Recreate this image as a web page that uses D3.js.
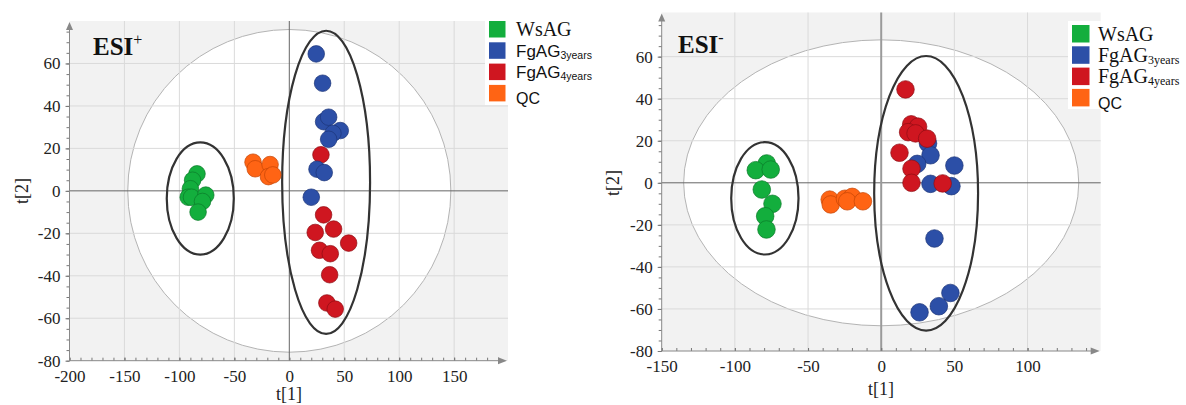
<!doctype html>
<html>
<head>
<meta charset="utf-8">
<script src="https://d3js.org/d3.v7.min.js"></script>
<style>
  body {margin: 0; background: #fff;}
  svg {display: block;}
</style>
</head>
<body>
<svg width="1186" height="405"></svg>
<script>
// groups and colours
var groups = ["WsAG", "FgAG3", "FgAG4", "QC"];
var colors = ["#13ae3d", "#2c4fa7", "#cf1620", "#ff6414"];
var strokes = ["#0c7a2a", "#1d3578", "#8e0d13", "#c44506"];

// ESI+ scores [t1, t2]
var posWsAG = [[-84, 8], [-88, 5], [-90, 1], [-92, -3], [-89, -3], [-76, -2], [-79, -5], [-83, -10]];
var posQC = [[-33, 13.5], [-31, 10.4], [-17.5, 12.4], [-19, 6.7], [-15, 7.5]];
var posFg4 = [[28.8, 17], [31.2, -11.3], [23.6, -19.6], [40.3, -18], [54, -24.6], [27.5, -28], [37.3, -29.6], [36.7, -39.5], [34.2, -52.8], [41.8, -55.7]];
var posFg3 = [[24.5, 64.5], [30.3, 50.7], [31.2, 32.6], [35.8, 34.7], [46.4, 28.4], [39.7, 27.1], [35.8, 24.3], [25.2, 10.2], [31.8, 8.6], [20, -3]];

// ESI- scores [t1, t2]
var negWsAG = [[-78.2, 9.2], [-85.7, 6], [-75.5, 6.3], [-81.6, -3.2], [-74.3, -10], [-79.3, -15.9], [-78.4, -22.2]];
var negQC = [[-35.2, -8], [-34.5, -10.3], [-24.8, -7.6], [-19.8, -6.7], [-23.2, -8.8], [-12.5, -8.8]];
var negFg3 = [[32, 18.7], [33.7, 13.1], [24.6, 9], [50, 8.2], [33.7, -0.5], [48, -1.6], [36.4, -26.5], [47.3, -52.4], [39.4, -58.7], [26.2, -61.6]];
var negFg4 = [[16.6, 44.4], [20.5, 27.8], [25.2, 26.7], [18.4, 24.1], [23.5, 23.5], [31.4, 21], [12.5, 14.3], [20.7, 6.7], [20.7, 0], [42, -0.3]];

// ellipses [cx, cy, rx, ry] in score units
var posHotelling = [0, 0, 147, 76];
var posGroupEll = [[-81, -3.6, 30.5, 26.4], [33.5, 4, 40, 71.4]];
var negHotelling = [0, 0, 135, 68];
var negGroupEll = [[-79.5, -7.4, 23, 26.7], [30.7, -5, 35.5, 65.3]];

// ticks
var posXTicks = [-200, -150, -100, -50, 0, 50, 100, 150];
var negXTicks = [-150, -100, -50, 0, 50, 100];
var yTicks = [-80, -60, -40, -20, 0, 20, 40, 60];

var svg = d3.select("svg");
var fmt = function(d) {return String(d);};

function panel(p) {
    var x = p.x, y = p.y;
    var g = svg.append("g");
    var x0 = x.range()[0], x1 = x.range()[1];
    var yb = y.range()[0], yt = y.range()[1];

    // background + Hotelling ellipse
    g.append("rect").attr("x", x0).attr("y", yt).attr("width", x1 - x0).attr("height", yb - yt).attr("fill", "#f2f2f2");
    g.append("ellipse")
        .attr("cx", x(p.hot[0])).attr("cy", y(p.hot[1]))
        .attr("rx", x(p.hot[2]) - x(0)).attr("ry", y(0) - y(p.hot[3]))
        .attr("fill", "#fff").attr("stroke", "#b4b4b4").attr("stroke-width", 1);

    // grid
    g.selectAll(".vg").data(p.xticks.filter(function(d) {return d != 0 && d != x.domain()[0];}))
        .enter().append("line")
        .attr("x1", function(d) {return x(d);}).attr("x2", function(d) {return x(d);})
        .attr("y1", yt).attr("y2", yb).attr("stroke", "#dadada");
    g.selectAll(".hg").data(yTicks.filter(function(d) {return d != 0 && d != -80;}))
        .enter().append("line")
        .attr("y1", function(d) {return y(d);}).attr("y2", function(d) {return y(d);})
        .attr("x1", x0).attr("x2", x1).attr("stroke", "#dadada");

    // legend backdrop
    g.append("rect").attr("x", p.leg[0] - 4).attr("y", p.leg[1] - 4).attr("width", x1 - p.leg[0] + 4).attr("height", 88).attr("fill", "#fff");

    // zero lines
    g.append("line").attr("x1", x0).attr("x2", x1).attr("y1", y(0)).attr("y2", y(0)).attr("stroke", "#666");
    g.append("line").attr("x1", x(0)).attr("x2", x(0)).attr("y1", yt).attr("y2", yb)
        .attr("stroke", p.zeroV[0]).attr("stroke-width", p.zeroV[1]);

    // group ellipses
    g.selectAll(".ge").data(p.groupEll).enter().append("ellipse")
        .attr("cx", function(d) {return x(d[0]);}).attr("cy", function(d) {return y(d[1]);})
        .attr("rx", function(d) {return x(d[2]) - x(0);}).attr("ry", function(d) {return y(0) - y(d[3]);})
        .attr("fill", "none").attr("stroke", "#333").attr("stroke-width", 2.2);

    // points
    p.series.forEach(function(s) {
        g.append("g").selectAll("circle").data(s.data).enter().append("circle")
            .attr("cx", function(d) {return x(d[0]);})
            .attr("cy", function(d) {return y(d[1]);})
            .attr("r", p.r)
            .attr("fill", colors[s.k]).attr("stroke", strokes[s.k]).attr("stroke-width", 0.7);
    });

    // axes
    var ay = g.append("g").attr("transform", "translate(" + x0 + ",0)")
        .call(d3.axisLeft(y).tickValues(yTicks).tickSize(4).tickPadding(5).tickFormat(fmt));
    var ayMinor = g.append("g").attr("transform", "translate(" + x0 + ",0)")
        .call(d3.axisLeft(y).tickValues(d3.range(-80, 80, 5)).tickSize(3).tickFormat(""));
    var ax = g.append("g").attr("transform", "translate(0," + yb + ")")
        .call(d3.axisBottom(x).tickValues(p.xticks).tickSizeInner(-3).tickSizeOuter(0).tickPadding(9).tickFormat(fmt));
    var axMinor = g.append("g").attr("transform", "translate(0," + yb + ")")
        .call(d3.axisBottom(x).tickValues(d3.range(x.domain()[0], x.domain()[1] - 5, 10)).tickSizeInner(-3).tickSizeOuter(0).tickFormat(""));
    [ay, ayMinor, ax, axMinor].forEach(function(a) {
        a.select(".domain").remove();
        a.selectAll(".tick line").attr("stroke", "#777");
        a.selectAll(".tick text").attr("fill", "#222")
            .style("font-family", "'Liberation Serif', 'Times New Roman', serif").style("font-size", "17px");
    });
    g.append("line").attr("x1", x0).attr("x2", x0).attr("y1", yb).attr("y2", yt + 6).attr("stroke", "#888");
    g.append("line").attr("x1", x0).attr("x2", x1 - 6).attr("y1", yb).attr("y2", yb).attr("stroke", "#888");
    g.append("path").attr("d", "M" + (x0 - 3.5) + "," + (yt + 9) + "L" + x0 + "," + (yt + 1) + "L" + (x0 + 3.5) + "," + (yt + 9) + "Z").attr("fill", "#888");
    g.append("path").attr("d", "M" + (x1 - 10) + "," + (yb - 3.5) + "L" + (x1 - 1) + "," + yb + "L" + (x1 - 10) + "," + (yb + 3.5) + "Z").attr("fill", "#888");

    // axis titles
    g.append("text").attr("transform", "translate(" + p.t2[0] + "," + p.t2[1] + ") rotate(-90)")
        .attr("text-anchor", "middle").attr("font-family", "Liberation Serif").attr("font-size", 18).attr("fill", "#222").text("t[2]");
    g.append("text").attr("x", p.t1[0]).attr("y", p.t1[1])
        .attr("text-anchor", "middle").attr("font-family", "Liberation Serif").attr("font-size", 18).attr("fill", "#222").text("t[1]");

    // ESI label
    var lab = g.append("text").attr("x", p.esi[0]).attr("y", p.esi[1])
        .attr("font-family", "Liberation Serif").attr("font-weight", "bold").attr("font-size", 25).attr("fill", "#111");
    lab.append("tspan").text("ESI");
    lab.append("tspan").attr("font-size", 16).attr("dy", -10).attr("font-weight", "normal").text(p.esiSup);

    // legend
    var lg = g.append("g").attr("transform", "translate(" + p.leg[0] + "," + p.leg[1] + ")");
    groups.forEach(function(name, i) {
        lg.append("rect").attr("x", 0).attr("y", i * p.legStep).attr("width", p.sq).attr("height", p.sq).attr("fill", colors[i]);
        var t = lg.append("text").attr("x", p.legText).attr("y", i * p.legStep + p.sq - 2).attr("fill", "#111");
        if (name == "WsAG") {
            t.attr("font-family", "Liberation Serif").attr("font-size", 20).text("WsAG");
        } else if (name == "QC") {
            t.attr("font-family", "Liberation Sans").attr("font-size", 16).attr("y", i * p.legStep + p.sq + 3).text("QC");
        } else {
            t.attr("font-family", p.fgFont).attr("font-size", p.fgSize);
            t.append("tspan").text("FgAG");
            t.append("tspan").attr("font-size", p.subSize).attr("dy", 2).text(name == "FgAG3" ? "3years" : "4years");
        }
    });
}

panel({
    x: d3.scaleLinear().domain([-200, 199]).range([69.5, 508]),
    y: d3.scaleLinear().domain([-80, 80]).range([360.7, 21]),
    hot: posHotelling, groupEll: posGroupEll, xticks: posXTicks, r: 8.3,
    zeroV: ["#666", 1],
    series: [{k: 0, data: posWsAG}, {k: 3, data: posQC}, {k: 2, data: posFg4}, {k: 1, data: posFg3}],
    t2: [28, 191], t1: [289, 400], esi: [93, 55], esiSup: "+",
    leg: [489, 21], legStep: 21.3, sq: 16.5, legText: 27,
    fgFont: "Liberation Sans", fgSize: 17, subSize: 10.5
});

panel({
    x: d3.scaleLinear().domain([-150, 150]).range([661.7, 1100.7]),
    y: d3.scaleLinear().domain([-80, 81]).range([351, 12.5]),
    hot: negHotelling, groupEll: negGroupEll, xticks: negXTicks, r: 8.8,
    zeroV: ["#9a9a9a", 2],
    series: [{k: 0, data: negWsAG}, {k: 3, data: negQC}, {k: 1, data: negFg3}, {k: 2, data: negFg4}],
    t2: [619, 183], t1: [881, 395], esi: [678, 53], esiSup: "-",
    leg: [1072, 25], legStep: 21.3, sq: 17.5, legText: 26,
    fgFont: "Liberation Serif", fgSize: 20, subSize: 12
});
</script>
</body>
</html>
